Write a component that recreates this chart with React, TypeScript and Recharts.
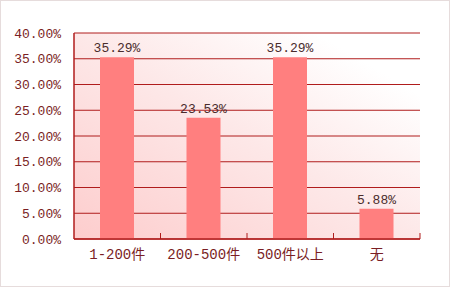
import React from 'react';
import { BarChart, Bar, XAxis, YAxis, CartesianGrid, LabelList } from 'recharts';

const categories = ['1-200件', '200-500件', '500件以上', '无'];
const values = [35.29, 23.53, 35.29, 5.88];
const yTicks = [0, 5, 10, 15, 20, 25, 30, 35, 40];

const data = categories.map((c, i) => ({ name: c, value: values[i] }));

const FONT = "'Liberation Mono', 'DejaVu Sans Mono', 'Noto Sans CJK SC', monospace";
const RED = '#B01C1C';
const TEXT = '#7A1E24';
const TICK_SIZE = 6;
const TICK_MARGIN = 4;

function CategoryTick(props: any) {
  const { x, y, payload } = props;
  const axisY = y - TICK_SIZE - TICK_MARGIN;
  const boundaryX = x + (payload.offset || 0);
  return (
    <g>
      <line x1={boundaryX} x2={boundaryX} y1={axisY} y2={axisY - 6} stroke={RED} strokeWidth={1} />
      <text
        x={x}
        y={y}
        dy="0.71em"
        textAnchor="middle"
        fill={TEXT}
        fontSize={14}
        fontFamily={FONT}
      >
        {payload.value}
      </text>
    </g>
  );
}

export default function App() {
  return (
    <div
      style={{
        position: 'absolute',
        left: 0,
        top: 0,
        width: 450,
        height: 287,
        boxSizing: 'border-box',
        border: '1px solid #E6DCDC',
        background: '#FFFFFF',
      }}
    >
      <svg width={0} height={0} style={{ position: 'absolute' }}>
        <defs>
          <linearGradient id="plotGrad" x1="0" y1="1" x2="1" y2="0">
            <stop offset="0%" stopColor="#FDCDCD" />
            <stop offset="50%" stopColor="#FDE8E8" />
            <stop offset="85%" stopColor="#FFFFFF" />
          </linearGradient>
        </defs>
      </svg>
      <div style={{ position: 'absolute', left: -1, top: -1 }}>
        <BarChart
          width={450}
          height={287}
          data={data}
          margin={{ top: 33, right: 30, left: 0, bottom: 0 }}
          barCategoryGap="30%"
        >
          <CartesianGrid vertical={false} stroke={RED} strokeWidth={1} fill="url(#plotGrad)" />
          <XAxis
            dataKey="name"
            height={48}
            axisLine={{ stroke: RED, strokeWidth: 1.5 }}
            tickLine={false}
            tickSize={TICK_SIZE}
            tickMargin={TICK_MARGIN}
            tick={<CategoryTick />}
            interval={0}
          />
          <YAxis
            width={74}
            domain={[0, 40]}
            ticks={yTicks}
            tickFormatter={(v: number) => v.toFixed(2) + '%'}
            axisLine={{ stroke: RED, strokeWidth: 1.5 }}
            tickLine={false}
            tickMargin={7}
            tick={{ fill: TEXT, fontSize: 13, fontFamily: FONT }}
          />
          <Bar dataKey="value" fill="#FF7F7F" barSize={34} isAnimationActive={false}>
            <LabelList
              dataKey="value"
              position="top"
              formatter={(v: number) => v.toFixed(2) + '%'}
              style={{ fill: '#4A2C2C', fontSize: 13, fontFamily: FONT }}
            />
          </Bar>
        </BarChart>
      </div>
    </div>
  );
}
